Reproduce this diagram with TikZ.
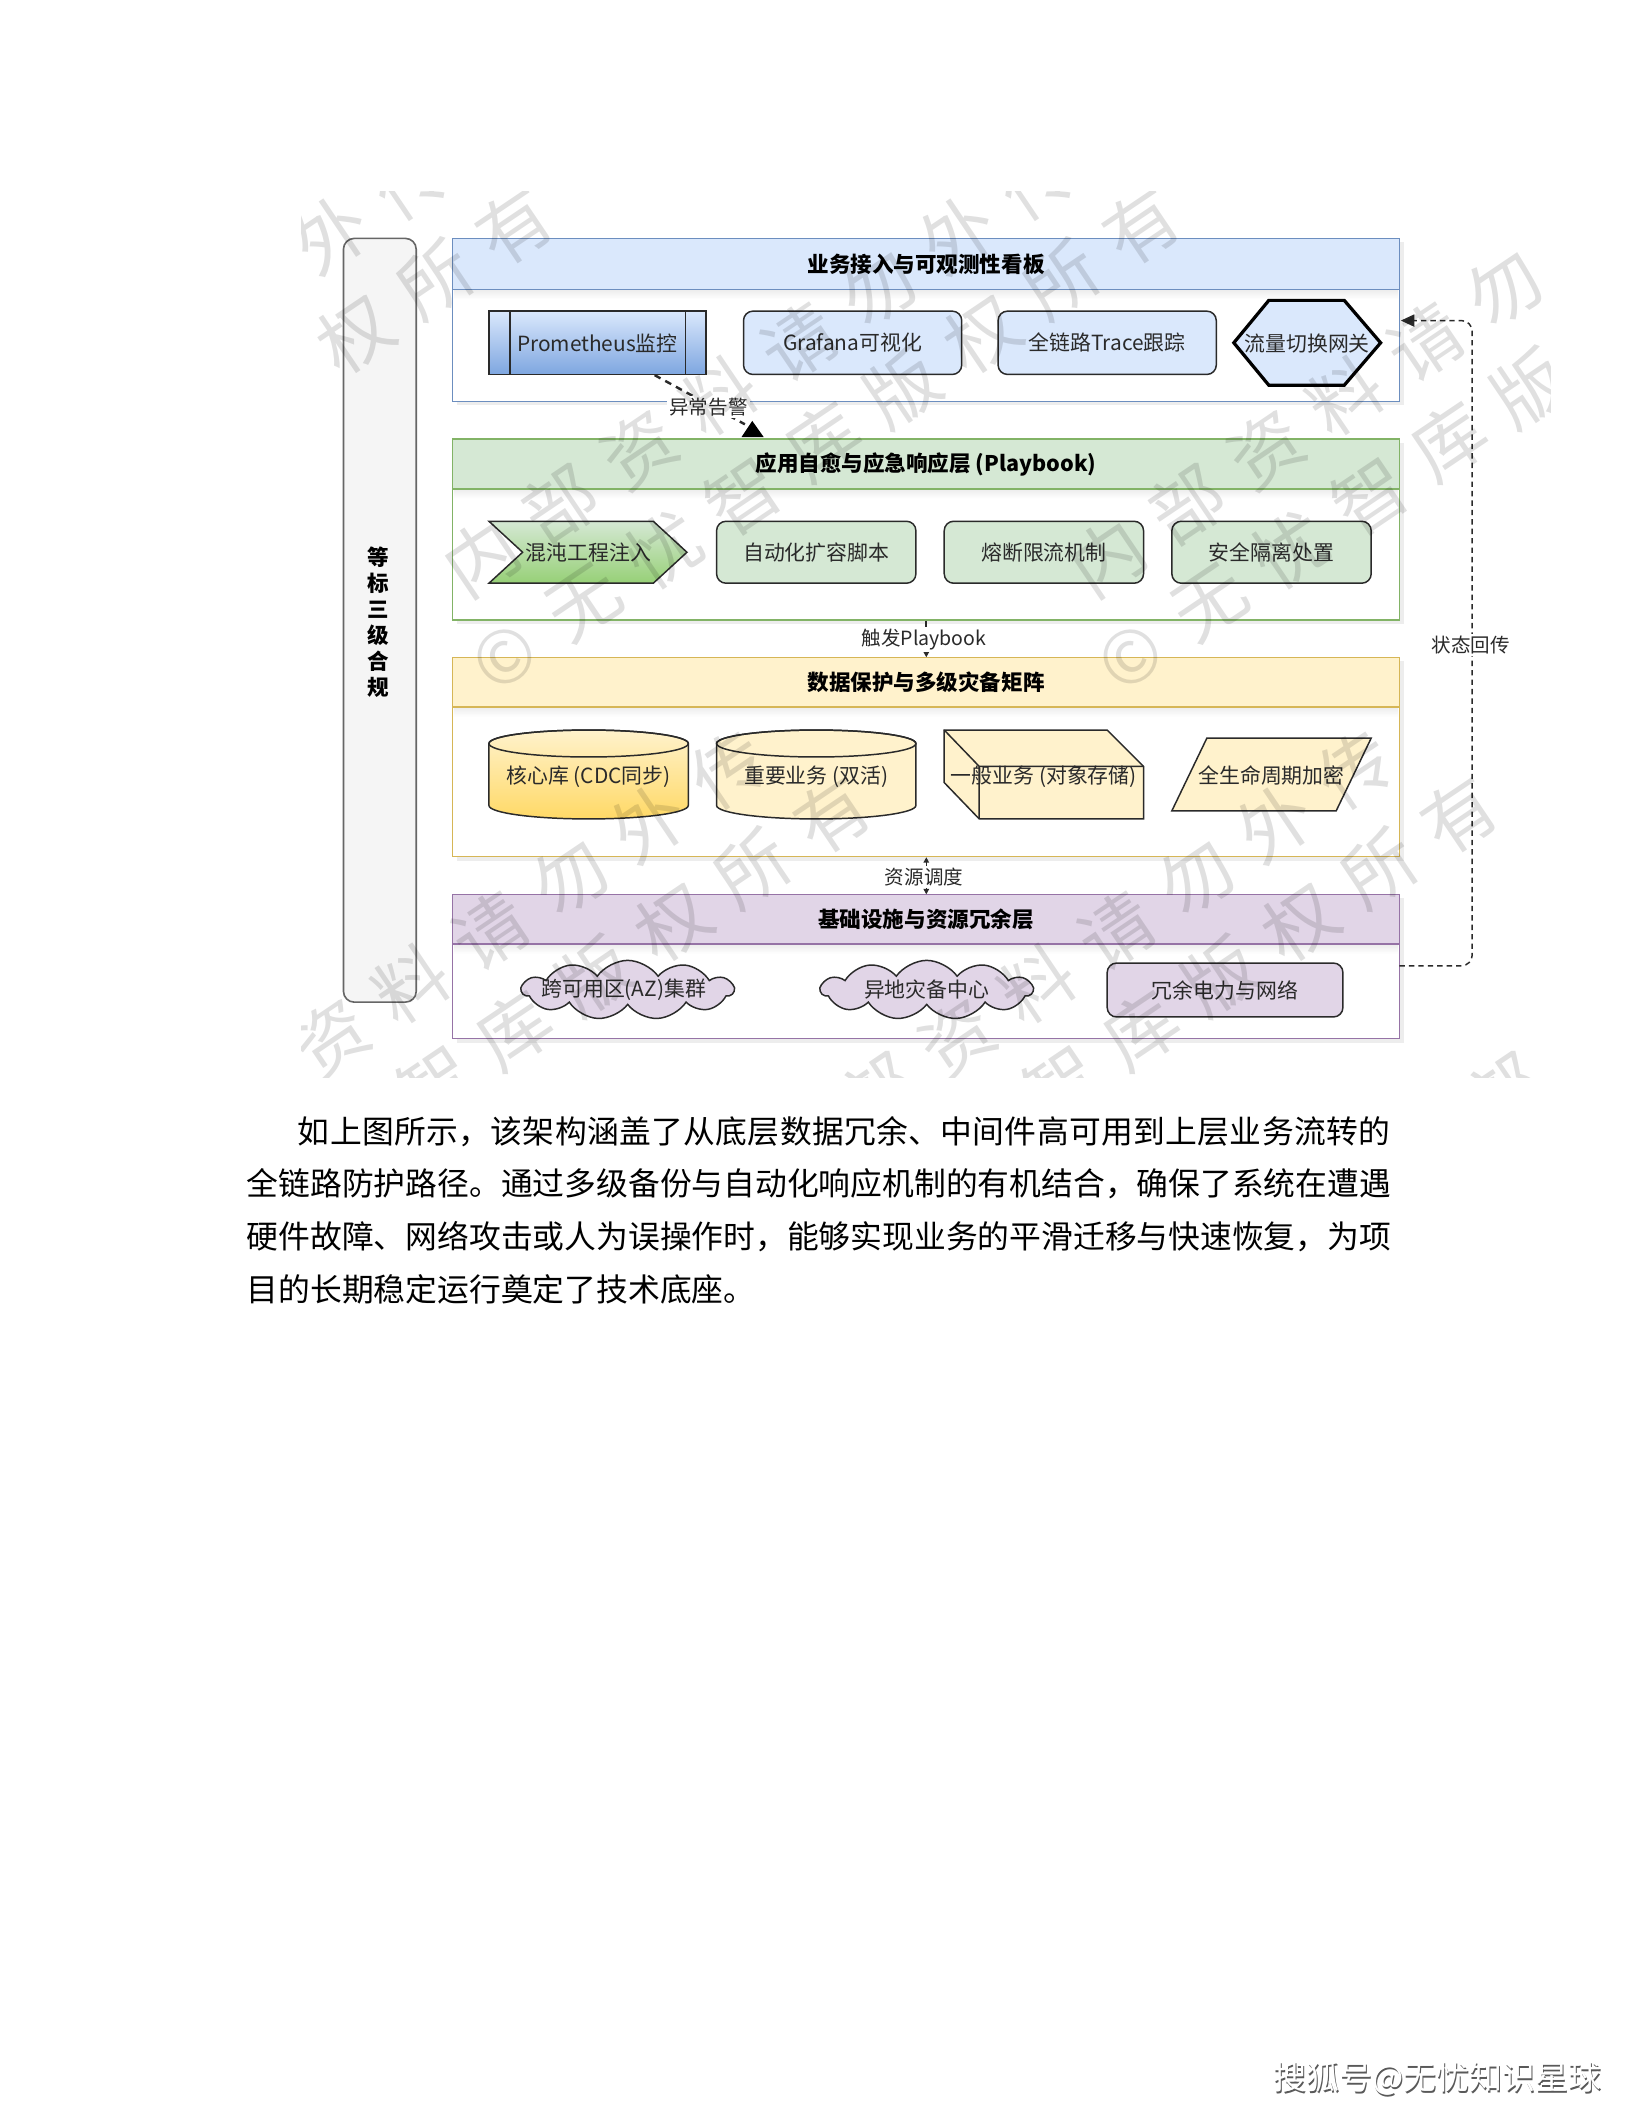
\documentclass[tikz,border=0pt]{standalone}
\usepackage{fontspec}
\setmainfont{Noto Sans CJK SC}
\usetikzlibrary{shapes.symbols,arrows.meta,calc}
\definecolor{blueF}{HTML}{DAE8FC}
\definecolor{blueS}{HTML}{6C8EBF}
\definecolor{blueD}{HTML}{7EA6E0}
\definecolor{greenF}{HTML}{D5E8D4}
\definecolor{greenS}{HTML}{82B366}
\definecolor{greenD}{HTML}{97D077}
\definecolor{yellowF}{HTML}{FFF2CC}
\definecolor{yellowS}{HTML}{D6B656}
\definecolor{yellowD}{HTML}{FFD966}
\definecolor{purpleF}{HTML}{E1D5E7}
\definecolor{purpleS}{HTML}{9673A6}
\definecolor{grayF}{HTML}{F5F5F5}
\definecolor{grayS}{HTML}{666666}
\definecolor{ink}{HTML}{2A2A2A}
\newcommand{\fsItem}{\fontsize{15.5}{18}\selectfont}
\newcommand{\fsHead}{\fontsize{16}{19}\selectfont}
\newcommand{\fsEdge}{\fontsize{14.5}{17}\selectfont}
\newcommand{\fsPara}{\fontsize{23.6}{28}\selectfont}
\newcommand{\fsWm}{\fontsize{54}{56}\selectfont}
\newcommand{\fsSohu}{\fontsize{24.5}{28}\selectfont}
% lane: #1 name, #2 ytop, #3 yhead, #4 ybottom, #5 fill, #6 stroke, #7 title
\newcommand{\mylane}[7]{%
  \fill[black,opacity=0.07] (339,#2+3) rectangle (1042,#4+3);
  \node[fill=white, minimum width=703pt, minimum height={#4-#2}, anchor=north west] (#1) at (336,#2) {};
  \fill[#5] (336,#2) rectangle (1039,#3);
  \shade[top color=black!12, bottom color=white, opacity=0.6] (337,#3) rectangle (1038,#3+7);
  \draw[#6, line width=1.2pt] (336,#3) -- (1039,#3);
  \draw[#6, line width=1.2pt] (336,#2) rectangle (1039,#4);
  \node[lanetitle] (#1t) at (687.5,{(#2+#3)/2}) {#7};
}
% cylinder: #1 cx, #2 fill options
\newcommand{\mycyl}[2]{%
  \path[#2, draw=ink, line width=1.1pt] (#1-74,552) -- (#1-74,598)
     arc[start angle=180,end angle=0,x radius=74,y radius=10] -- (#1+74,552)
     arc[start angle=360,end angle=180,x radius=74,y radius=10] -- cycle;
  \draw[ink, line width=1.1pt] (#1,552) ellipse[x radius=74, y radius=10];
}
\begin{document}
\begin{tikzpicture}[x=1pt,y=-1pt,
  every node/.style={inner sep=0pt, text=ink},
  box/.style={draw=ink, line width=1.1pt, rounded corners=7pt, minimum height=46pt, font=\fsItem},
  txt/.style={font=\fsItem},
  lanetitle/.style={font=\bfseries\fsHead, text=black},
  elabel/.style={font=\fsEdge, fill=white, inner sep=1.5pt},
  wm/.style={font=\fsWm, text=black, text opacity=0.12},
  cloudsh/.style={cloud, cloud puffs=11, cloud puff arc=110, aspect=3.6, draw=ink, fill=purpleF, line width=1.1pt, minimum width=157pt, minimum height=44pt}
]
\useasboundingbox (0,0) rectangle (1212,1568);
\fill[white] (0,0) rectangle (1212,1568);

% ---------- left compliance bar
\node[draw=grayS, fill=grayF, line width=1.2pt, rounded corners=8pt, minimum width=54pt, minimum height=567pt] (bar) at (282,460.5) {};
\node[font=\bfseries\fontsize{16}{19.2}\selectfont, align=center, text=black] (bart) at (281,462) {等\\标\\三\\级\\合\\规};

% ---------- lanes
\mylane{L1}{177}{215}{298}{blueF}{blueS}{业务接入与可观测性看板}
\mylane{L2}{326}{363}{460.5}{greenF}{greenS}{应用自愈与应急响应层 (Playbook)}
\mylane{L3}{488}{525}{636}{yellowF}{yellowS}{数据保护与多级灾备矩阵}
\mylane{L4}{664}{701}{771}{purpleF}{purpleS}{基础设施与资源冗余层}

% ---------- lane 1 items
\node[draw=ink, line width=1.1pt, top color=blueF, bottom color=blueD, minimum width=161pt, minimum height=47pt] (prom) at (443.5,254.5) {};
\draw[ink, line width=1.1pt] (378.5,231) -- (378.5,278) (509,231) -- (509,278);
\node[txt] (promt) at (443.5,255) {Prometheus监控};
\node[box, fill=blueF, minimum width=162pt, minimum height=47pt] (graf) at (633,254.5) {Grafana可视化};
\node[box, fill=blueF, minimum width=162pt, minimum height=47pt] (trace) at (822,254.5) {全链路Trace跟踪};
\draw[line width=2.4pt, black, fill=blueF] (916,254.5) -- (942,223) -- (998,223) -- (1025,254.5) -- (998,286) -- (942,286) -- cycle;
\node[txt] (gw) at (970.5,255) {流量切换网关};

% ---------- lane 2 items
\path[draw=ink, line width=1.1pt, top color=greenF, bottom color=greenD] (363,387) -- (485,387) -- (510,410) -- (485,433) -- (363,433) -- (388,410) -- cycle;
\node[txt] (chaos) at (437,410) {混沌工程注入};
\node[box, fill=greenF, minimum width=148pt] (auto) at (606,410) {自动化扩容脚本};
\node[box, fill=greenF, minimum width=148pt] (fuse) at (775,410) {熔断限流机制};
\node[box, fill=greenF, minimum width=148pt] (iso) at (944,410) {安全隔离处置};

% ---------- lane 3 items
\mycyl{437}{top color=yellowF, bottom color=yellowD}
\node[txt] (core) at (437,577) {核心库 (CDC同步)};
\mycyl{606}{fill=yellowF}
\node[txt] (imp) at (606,577) {重要业务 (双活)};
\draw[ink, line width=1.1pt, fill=yellowF, line join=miter] (701,542) -- (822,542) -- (849,569) -- (849,608) -- (727,608) -- (701,581) -- cycle;
\draw[ink, line width=1.1pt] (701,542) -- (727,569) -- (849,569) (727,569) -- (727,608);
\node[txt] (obj) at (775,577) {一般业务 (对象存储)};
\draw[ink, line width=1.1pt, fill=yellowF] (896,548) -- (1018,548) -- (992,602) -- (870,602) -- cycle;
\node[txt] (enc) at (944,576) {全生命周期加密};

% ---------- lane 4 items
\node[cloudsh] (az) at (466,735) {};
\node[txt] (azt) at (463,735) {跨可用区(AZ)集群};
\node[cloudsh] (dr) at (688,735) {};
\node[txt] (drt) at (688,735) {异地灾备中心};
\node[box, fill=purpleF, minimum width=175pt, minimum height=40pt] (pow) at (909.5,735) {冗余电力与网络};

% ---------- connectors
\coordinate (aS) at (486,278.5);
\coordinate (aT) at (553,315);
\draw[ink, line width=1.8pt, dash pattern=on 5pt off 4pt] (aS) -- (aT);
\fill[black] (558.5,312.5) -- (567,324.5) -- (550.5,324.5) -- cycle;
\node[elabel] (alarm) at (526,302) {异常告警};

\draw[ink, line width=1.4pt, -{Triangle[length=4pt,width=4pt]}] (L2.south) -- (L3.north);
\node[elabel] (trig) at (686,475) {触发Playbook};

\draw[ink, line width=1pt, {Triangle[length=4pt,width=4pt]}-{Triangle[length=4pt,width=4pt]}] (L3.south) -- (L4.north);
\node[elabel] (sched) at (686,651) {资源调度};

\coordinate (rS) at (1039,717);
\coordinate (rT) at (1040,238);
\draw[ink, line width=1.1pt, dash pattern=on 4pt off 3pt, rounded corners=8pt, -{Triangle[length=10pt,width=9pt]}] (rS) -- (1093,717) -- (1093,238) -- (rT);
\node[elabel] (back) at (1092,479) {状态回传};

% ---------- watermark tiles
\begin{scope}
\clip (224,142) rectangle (1151,800);
\foreach \ox/\oy in {-465/0, 0/0, 465/0, 930/0, -229/437, 236/437, 701/437} {
  \foreach \c/\i in {内/0,部/1,资/2,料/3,请/4,勿/5,外/6,传/7} {
    \pgfmathsetmacro\xx{357+\ox+59*\i}
    \pgfmathsetmacro\yy{414+\oy-40*\i}
    \pgfmathtruncatemacro\inside{and(and(\xx>215,\xx<1165),and(\yy>130,\yy<815))}
    \ifnum\inside=1 \node[wm, rotate=34] at (\xx,\yy) {\c};\fi
  }
  \foreach \c/\i in {©/0,无/1,忧/2,智/3,库/4,版/5,权/6,所/7,有/8} {
    \pgfmathsetmacro\xx{375+\ox+59*\i}
    \pgfmathsetmacro\yy{488+\oy-40*\i}
    \pgfmathtruncatemacro\inside{and(and(\xx>215,\xx<1165),and(\yy>130,\yy<815))}
    \ifnum\inside=1 \node[wm, rotate=34] at (\xx,\yy) {\c};\fi
  }
}
\end{scope}

% ---------- paragraph
\node[font=\fsPara\addfontfeatures{LetterSpace=1.1}, text=black, anchor=west] (p1) at (221,840) {如上图所示，该架构涵盖了从底层数据冗余、中间件高可用到上层业务流转的};
\node[font=\fsPara, text=black, anchor=west] (p2) at (183,879) {全链路防护路径。通过多级备份与自动化响应机制的有机结合，确保了系统在遭遇};
\node[font=\fsPara, text=black, anchor=west] (p3) at (183,918) {硬件故障、网络攻击或人为误操作时，能够实现业务的平滑迁移与快速恢复，为项};
\node[font=\fsPara, text=black, anchor=west] (p4) at (183,957) {目的长期稳定运行奠定了技术底座。};

% ---------- sohu mark
\node[font=\fsSohu, text=black!65, anchor=west] (sohus) at (946.2,1544.2) {搜狐号@无忧知识星球};
\node[font=\fsSohu, text=white, anchor=west] (sohu) at (945,1543) {搜狐号@无忧知识星球};
\end{tikzpicture}
\end{document}
